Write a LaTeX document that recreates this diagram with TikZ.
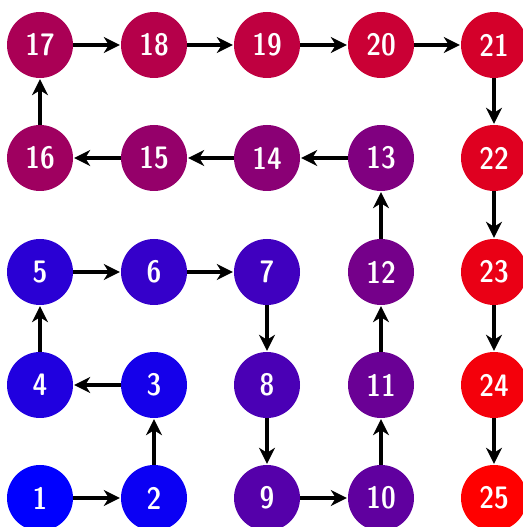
\documentclass[tikz,border=0pt]{standalone}
\usetikzlibrary{arrows.meta}
\begin{document}
\begin{tikzpicture}[x=1pt,y=1pt,
  cell/.style={circle,minimum size=66pt,inner sep=0pt,text=white,
    font=\fontsize{31}{31}\fontseries{sbc}\sffamily\selectfont},
  link/.style={line width=3.6pt,-{Stealth[length=16pt,width=16pt,inset=5pt]},shorten >=1pt}]
\useasboundingbox (0,0) rectangle (522,527);
\def\xs{{40,154,267,381,494}}
\def\ys{{45,158,272,385,498}}
\foreach \r/\row in {0/{17,18,19,20,21},1/{16,15,14,13,22},2/{5,6,7,12,23},3/{4,3,8,11,24},4/{1,2,9,10,25}}{
  \foreach \k [count=\c from 0] in \row {
    \pgfmathsetmacro{\p}{(\k-1)/24*100}
    \pgfmathsetmacro{\px}{\xs[\c]}
    \pgfmathsetmacro{\py}{527-\ys[\r]}
    \colorlet{cc}{red!\p!blue}
    \node[cell,fill=cc] (n\k) at (\px,\py) {\k};
  }
}
\foreach \a [remember=\a as \b (initially 1)] in {2,...,25}{
  \draw[link] (n\b) -- (n\a);
}
\end{tikzpicture}
\end{document}
